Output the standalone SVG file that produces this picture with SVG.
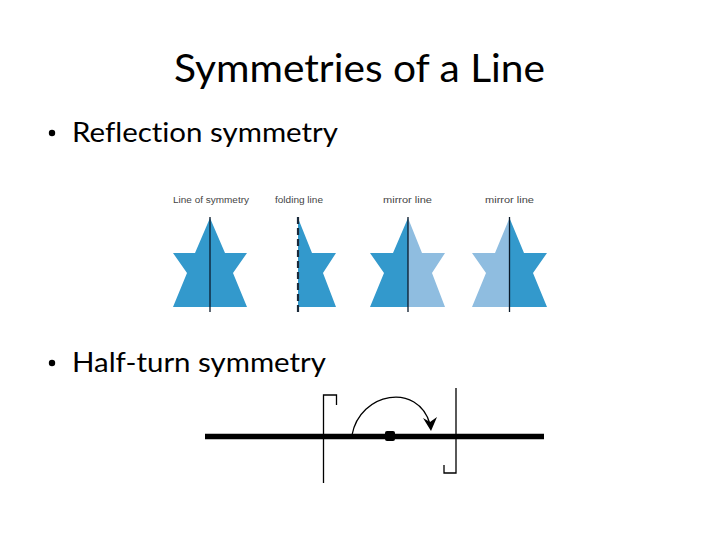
<svg xmlns="http://www.w3.org/2000/svg" width="720" height="540" viewBox="0 0 720 540">
<style>
.title{font-family:Lato,"Open Sans","Liberation Sans",sans-serif;font-size:38px;fill:#000;font-variant-ligatures:none}
.bul{font-family:Lato,"Open Sans","Liberation Sans",sans-serif;font-size:26px;fill:#000;font-variant-ligatures:none}
.lbl{font-family:"Liberation Sans",Arial,sans-serif;font-size:8.5px;fill:#444}
.dk{fill:#3399cc}
.lt{fill:#8fbde0}
.axis{stroke:#0a1a2a;stroke-width:1.3;fill:none}
.thin{stroke:#000;stroke-width:1.3;fill:none}
</style>
<rect width="720" height="540" fill="#fff"/>
<text class="title" x="174" y="82" textLength="371" lengthAdjust="spacingAndGlyphs">Symmetries of a Line</text>
<g id="bullet1">
<circle cx="52" cy="133" r="3.2" fill="#000"/>
<text class="bul" x="72" y="142" textLength="266" lengthAdjust="spacingAndGlyphs">Reflection symmetry</text>
</g>
<g id="bullet2">
<circle cx="52" cy="363" r="3.2" fill="#000"/>
<text class="bul" x="72" y="372" textLength="254" lengthAdjust="spacingAndGlyphs">Half-turn symmetry</text>
</g>
<g id="star1">
<text class="lbl" x="173" y="203" textLength="76" lengthAdjust="spacingAndGlyphs">Line of symmetry</text>
<path class="dk" d="M210,218 L225,253 L247,253 L233,273 L247,307 L173,307 L187,273 L173,253 L195,253 Z"/>
<line class="axis" x1="210" y1="217" x2="210" y2="312"/>
</g>
<g id="star2">
<text class="lbl" x="275" y="203" textLength="48" lengthAdjust="spacingAndGlyphs">folding line</text>
<path class="dk" d="M298,218 L312,253 L336,253 L323,273 L336,307 L298,307 Z"/>
<line x1="298" y1="217" x2="298" y2="312" stroke="#1a2a3a" stroke-width="2.2" stroke-dasharray="7,4"/>
</g>
<g id="star3">
<text class="lbl" x="383" y="203" textLength="49" lengthAdjust="spacingAndGlyphs">mirror line</text>
<path class="dk" d="M408,218 L408,307 L370,307 L384,273 L370,253 L393,253 Z"/>
<path class="lt" d="M408,218 L422,253 L445,253 L432,273 L445,307 L408,307 Z"/>
<line class="axis" x1="408" y1="217" x2="408" y2="312"/>
</g>
<g id="star4">
<text class="lbl" x="485" y="203" textLength="49" lengthAdjust="spacingAndGlyphs">mirror line</text>
<path class="lt" d="M509.5,218 L509.5,307 L472,307 L486,273 L472,253 L495,253 Z"/>
<path class="dk" d="M509.5,218 L524,253 L547,253 L533,273 L547,307 L509.5,307 Z"/>
<line class="axis" x1="509.5" y1="217" x2="509.5" y2="312"/>
</g>
<g id="halfturn">
<line x1="205" y1="436.5" x2="544" y2="436.5" stroke="#000" stroke-width="5.5"/>
<path class="thin" d="M323.5,483 L323.5,395 L336.5,395 L336.5,405"/>
<path class="thin" d="M456,388 L456,473 L444,473 L444,465"/>
<rect x="385" y="431" width="10" height="10" rx="2" fill="#000"/>
</g>
<g id="connectors">
<path class="thin" d="M352,435 C360,392 418,382 430,424"/>
<polygon points="423,418 431,431 437,417 430,422" fill="#000"/>
</g>
</svg>
